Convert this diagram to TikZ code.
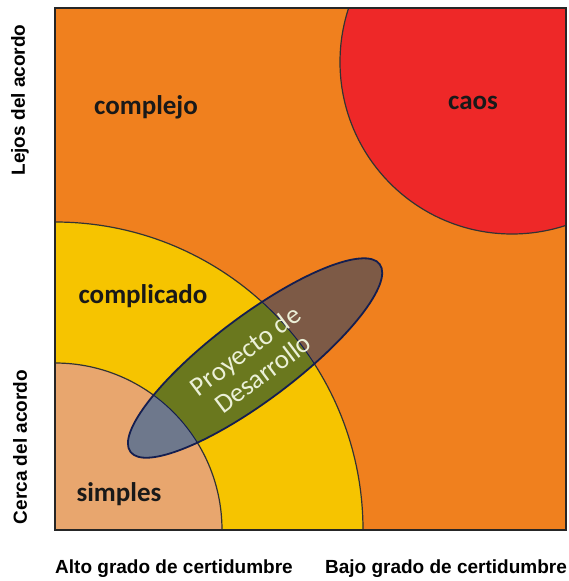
\documentclass[tikz,border=0pt]{standalone}
\usepackage{fontspec}
\setmainfont{Carlito}
\newfontfamily\axisfont{Liberation Sans}[BoldFont={Liberation Sans Bold}]
\usepackage{xcolor}
\usetikzlibrary{calc}

\definecolor{complejocol}{RGB}{240,128,30}
\definecolor{caoscol}{RGB}{238,40,40}
\definecolor{complicadocol}{RGB}{246,196,0}
\definecolor{simplescol}{RGB}{232,166,110}
\definecolor{projorange}{RGB}{125,90,70}
\definecolor{projyellow}{RGB}{106,120,30}
\definecolor{projsalmon}{RGB}{110,120,140}
\definecolor{projline}{RGB}{20,30,80}
\definecolor{projtextcol}{RGB}{235,240,215}

\tikzset{
  zone/.style={font=\bfseries\fontsize{27}{30}\selectfont, text=black!90},
  axislabel/.style={font=\axisfont\bfseries\fontsize{19}{21}\selectfont, text=black},
  projtext/.style={font=\fontsize{27}{29}\selectfont, text=projtextcol, align=center, inner sep=0pt},
  arcline/.style={draw=black!80, line width=1.2pt}
}

\begin{document}
\begin{tikzpicture}[x=1pt,y=-1pt]
\useasboundingbox (0,0) rectangle (568,581);
\fill[white] (0,0) rectangle (568,581);

\coordinate (O) at (55,530);
\coordinate (C) at (512,62);
\coordinate (E) at (255,358);

% regions
\fill[complejocol] (55,8) rectangle (566,530);
\begin{scope}
\clip (55,8) rectangle (566,530);
\fill[complicadocol, arcline] (O) circle (308);
\fill[simplescol, arcline] (O) circle (167);
\fill[caoscol, arcline] (C) circle (172);
\end{scope}

% project ellipse
\begin{scope}
\clip[rotate around={37:(E)}] (E) ellipse [x radius=156, y radius=42];
\fill[projorange] (E) circle (200);
\fill[projyellow] (O) circle (308);
\fill[projsalmon] (O) circle (167);
\draw[projline, line width=1pt] (O) circle (308);
\draw[projline, line width=1pt] (O) circle (167);
\end{scope}
\draw[projline, line width=1.8pt, rotate around={37:(E)}] (E) ellipse [x radius=156, y radius=42];

\draw[black!85, line width=2pt] (55,8) rectangle (566,530);

\node (proyecto) [projtext, rotate=37] at ($(E)+(-1,4)$) {Proyecto de\\Desarrollo};

\node (complejo) [zone] at (146,107) {complejo};
\node (caos) [zone] at (473,103) {caos};
\node (complicado) [zone] at (143,296) {complicado};
\node (simples) [zone] at (119,494) {simples};

\node (lejos) [axislabel, rotate=90] at (20,100) {Lejos del acordo};
\node (cerca) [axislabel, rotate=90] at (20,447) {Cerca del acordo};
\node (alto) [axislabel] at (174,569) {Alto grado de certidumbre};
\node (bajo) [axislabel] at (446,569) {Bajo grado de certidumbre};

\end{tikzpicture}
\end{document}
